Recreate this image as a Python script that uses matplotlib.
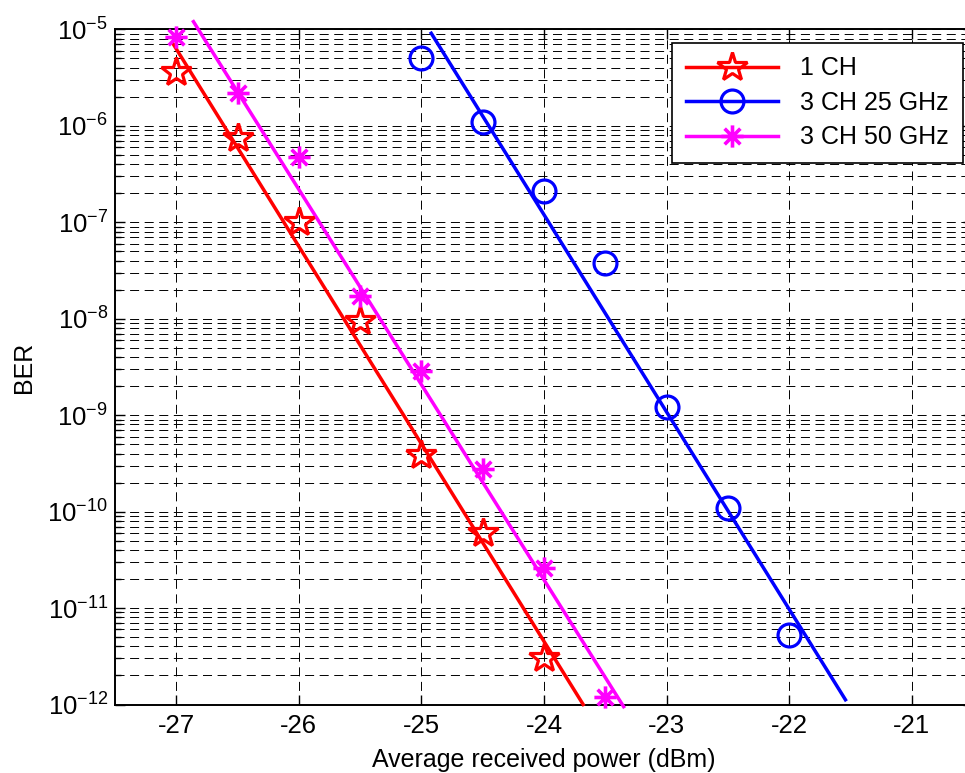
import numpy as np
import matplotlib
matplotlib.use("Agg")
import matplotlib.pyplot as plt
from matplotlib.path import Path
from matplotlib.ticker import FixedLocator, FuncFormatter, LogLocator, NullFormatter

plt.rcParams["font.family"] = ["Liberation Sans", "DejaVu Sans"]
plt.rcParams["axes.unicode_minus"] = False
plt.rcParams["lines.scale_dashes"] = False

# Measured BER versus average received power
power_1ch = [-27, -26.5, -26, -25.5, -25, -24.5, -24]
ber_1ch = [3.6e-6, 7.4e-7, 1.0e-7, 9.5e-9, 3.9e-10, 6.0e-11, 3.0e-12]

power_25 = [-25, -24.5, -24, -23.5, -23, -22.5, -22]
ber_25 = [5.0e-6, 1.1e-6, 2.1e-7, 3.8e-8, 1.2e-9, 1.1e-10, 5.3e-12]

power_50 = [-27, -26.5, -26, -25.5, -25, -24.5, -24, -23.5]
ber_50 = [8.4e-6, 2.2e-6, 4.7e-7, 1.7e-8, 2.9e-9, 2.75e-10, 2.6e-11, 1.2e-12]

# Straight-line fits (log BER vs power), end points
fit_power_1ch = [-27.03, -23.68]
fit_ber_1ch = [7.2e-6, 1.0e-12]
fit_power_25 = [-24.92, -21.54]
fit_ber_25 = [9.1e-6, 1.12e-12]
fit_power_50 = [-26.86, -23.35]
fit_ber_50 = [1.2e-5, 9.5e-13]

labels = ["1 CH", "3 CH 25 GHz", "3 CH 50 GHz"]
x_ticks = [-27, -26, -25, -24, -23, -22, -21]
y_decades = [-12, -11, -10, -9, -8, -7, -6, -5]

# 8-ray asterisk marker
_s = 0.7071
asterisk = Path(
    [(-1, 0), (1, 0), (0, -1), (0, 1), (-_s, -_s), (_s, _s), (-_s, _s), (_s, -_s)],
    [Path.MOVETO, Path.LINETO] * 4,
)

fig = plt.figure(figsize=(9.65, 7.73), dpi=100)
ax = fig.add_axes([0.1192, 0.0886, 0.889, 0.8735])
ax.set_yscale("log")
ax.set_xlim(-27.5, -20.5)
ax.set_ylim(1e-12, 1e-5)

lw = 2.5
series = [
    (power_1ch, ber_1ch, fit_power_1ch, fit_ber_1ch, "#ff0000", "*", 22, 2.3),
    (power_25, ber_25, fit_power_25, fit_ber_25, "#0000ff", "o", 16.5, 2.3),
    (power_50, ber_50, fit_power_50, fit_ber_50, "#ff00ff", asterisk, 16, 2.6),
]
for (px, py, fx, fy, col, mk, ms, mw), lab in zip(series, labels):
    ax.plot(fx, fy, color=col, lw=lw, clip_on=False, zorder=3)
    ax.plot(px, py, ls="none", marker=mk, ms=ms, mec=col, mfc="none",
            mew=mw, zorder=4, clip_on=False)
    # legend proxy: line + marker
    ax.plot([], [], color=col, lw=lw, marker=mk, ms=ms, mec=col, mfc="none",
            mew=mw, label=lab)

# Ticks
ax.xaxis.set_major_locator(FixedLocator(x_ticks))
ax.xaxis.set_major_formatter(FuncFormatter(lambda v, p: f"{v:g}"))
ax.yaxis.set_major_locator(FixedLocator([10.0 ** e for e in y_decades]))
ax.yaxis.set_major_formatter(
    FuncFormatter(lambda v, p: r"$\mathdefault{10^{%d}}$" % int(round(np.log10(v)))))
ax.yaxis.set_minor_locator(LogLocator(base=10, subs=np.arange(2, 10), numticks=20))
ax.yaxis.set_minor_formatter(NullFormatter())
ax.tick_params(which="both", direction="in", top=True, right=True,
               labelsize=18.5, width=1.0)
ax.tick_params(which="major", length=7)
ax.tick_params(which="minor", length=4)
ax.tick_params(axis="x", which="major", pad=7)
ax.tick_params(axis="y", which="major", pad=5)

# Dashed grid
dash = (0, (6.5, 4.0))
ax.grid(True, which="major", axis="both", color="#000000", lw=0.7, ls=dash, zorder=1)
ax.grid(True, which="minor", axis="y", color="#000000", lw=0.7, ls=dash, zorder=1)
ax.set_axisbelow(True)

for sp in ax.spines.values():
    sp.set_linewidth(1.4)

ax.set_xlabel("Average received power (dBm)", fontsize=18, labelpad=7)
ax.set_ylabel("BER", fontsize=18, labelpad=8)

leg = ax.legend(loc="upper right", bbox_to_anchor=(963 / 965, 1 - 42.7 / 773),
                bbox_transform=fig.transFigure, borderaxespad=0,
                fontsize=18, handlelength=3.7, handletextpad=0.9,
                labelspacing=0.42, borderpad=0.55, fancybox=False,
                framealpha=1, edgecolor="#000000")
leg.get_frame().set_linewidth(1.2)

fig.savefig("out.png", dpi=100)
